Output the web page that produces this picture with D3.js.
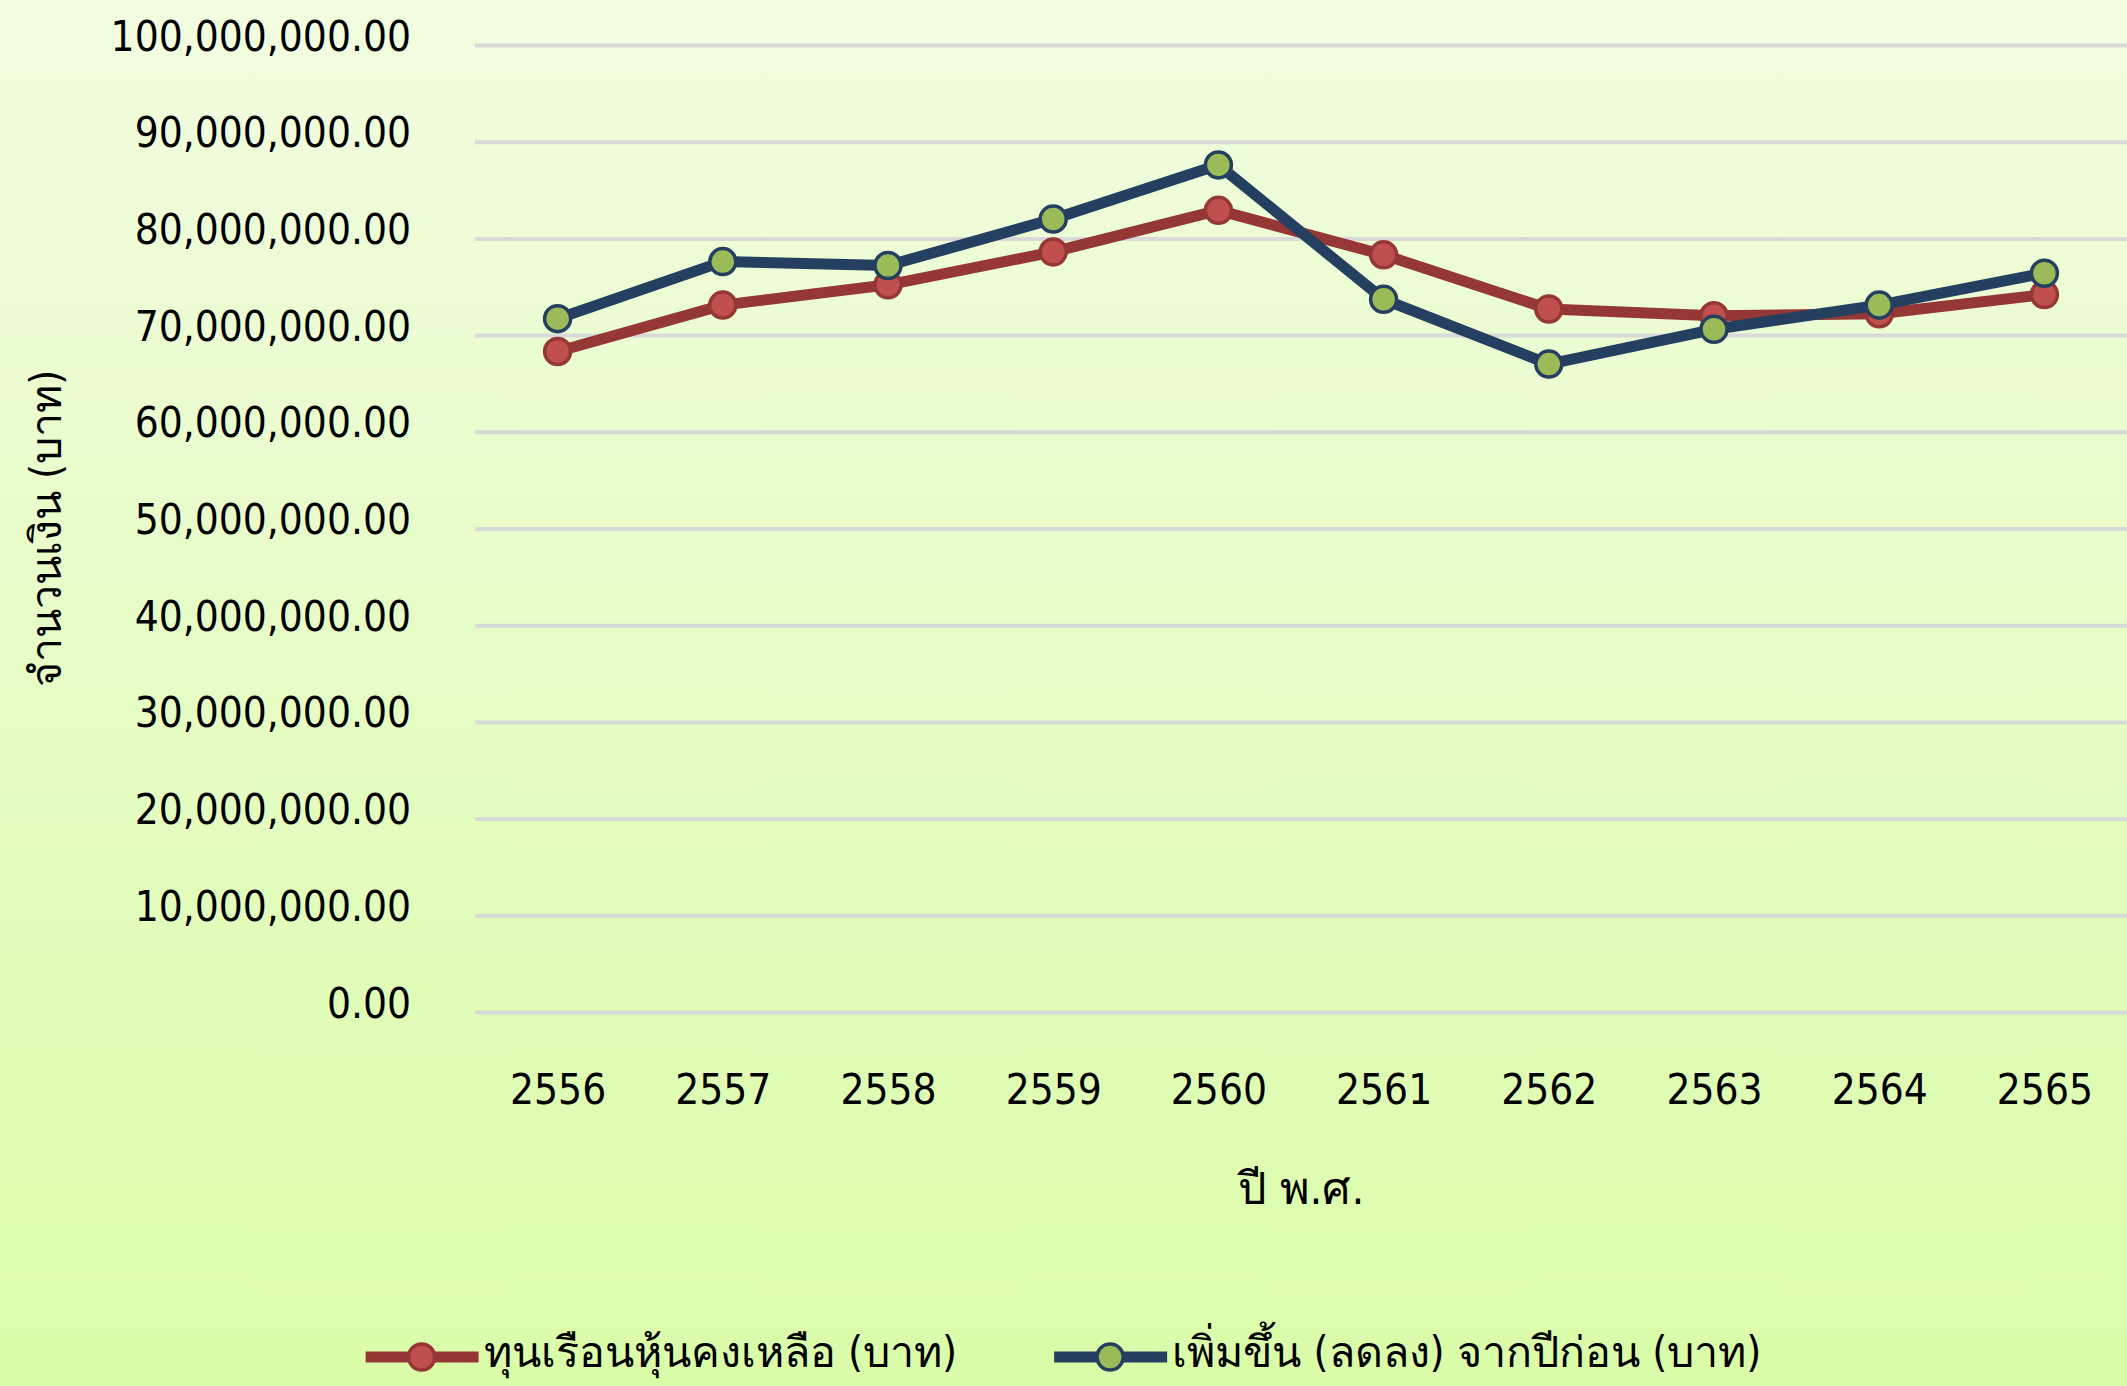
<!DOCTYPE html>
<html>
<head>
<meta charset="utf-8">
<script src="https://cdn.jsdelivr.net/npm/d3@7"></script>
<style>
  html, body { margin: 0; padding: 0; }
  body { width: 2127px; height: 1386px; overflow: hidden; }
  text { font-family: "DejaVu Sans Condensed", "DejaVu Sans", "Noto Sans", sans-serif; fill: #000; }
</style>
</head>
<body>
<div id="chart"></div>
<script>
// chart data
const years = ["2556", "2557", "2558", "2559", "2560", "2561", "2562", "2563", "2564", "2565"];
const remainingShares = [68300000, 73100000, 75200000, 78600000, 82900000, 78300000, 72700000, 72000000, 72200000, 74200000];
const changeFromPrev = [71700000, 77600000, 77200000, 82000000, 87600000, 73700000, 67000000, 70600000, 73100000, 76400000];
const yTicks = [0, 10000000, 20000000, 30000000, 40000000, 50000000, 60000000, 70000000, 80000000, 90000000, 100000000];
const seriesNames = ["ทุนเรือนหุ้นคงเหลือ (บาท)", "เพิ่มขึ้น (ลดลง) จากปีก่อน (บาท)"];
const xTitle = "ปี พ.ศ.";
const yTitle = "จำนวนเงิน (บาท)";

const svg_width = 2127,
    svg_height = 1386;

// plot area
const plot = {left: 475, right: 2127, top: 45, bottom: 1012};

const series = [
    {name: seriesNames[0], values: remainingShares, line: "#953735", fill: "#c0504d", stroke: "#953735"},
    {name: seriesNames[1], values: changeFromPrev, line: "#243f60", fill: "#9bbb59", stroke: "#243f60"}
];

const svg = d3.select("#chart")
    .append("svg")
    .attr("width", svg_width)
    .attr("height", svg_height);

// background gradient
const grad = svg.append("defs")
    .append("linearGradient")
    .attr("id", "bg")
    .attr("x1", 0).attr("y1", 0)
    .attr("x2", 0).attr("y2", 1);
grad.append("stop").attr("offset", "0%").attr("stop-color", "#f1fde0");
grad.append("stop").attr("offset", "100%").attr("stop-color", "#dafca8");

svg.append("rect")
    .attr("width", svg_width)
    .attr("height", svg_height)
    .attr("fill", "url(#bg)");

const x = d3.scalePoint()
    .domain(years)
    .range([plot.left, plot.right])
    .padding(0.5);

const y = d3.scaleLinear()
    .domain([0, 100000000])
    .range([plot.bottom, plot.top]);

// gridlines + y labels
const yAxis = svg.append("g")
    .call(d3.axisLeft(y)
        .tickValues(yTicks)
        .tickFormat(d3.format(",.2f"))
        .tickSize(0)
        .tickPadding(0));
yAxis.select(".domain").remove();
yAxis.selectAll(".tick line")
    .attr("x1", plot.left)
    .attr("x2", plot.right)
    .attr("stroke", "#d9d9d9")
    .attr("stroke-width", 4);
yAxis.selectAll(".tick text")
    .attr("x", 411)
    .attr("dy", null)
    .attr("y", 5)
    .attr("text-anchor", "end")
    .style("font-size", "42px");

// x labels
const xAxis = svg.append("g")
    .attr("transform", `translate(0,${plot.bottom})`)
    .call(d3.axisBottom(x).tickSize(0).tickPadding(0));
xAxis.select(".domain").remove();
xAxis.selectAll(".tick text")
    .attr("dy", null)
    .attr("y", 92)
    .style("font-size", "42px");

// axis titles
svg.append("text")
    .attr("x", (plot.left + plot.right) / 2)
    .attr("y", 1204)
    .attr("text-anchor", "middle")
    .style("font-size", "45px")
    .text(xTitle);

svg.append("text")
    .attr("transform", `translate(61,${(plot.top + plot.bottom) / 2}) rotate(-90)`)
    .attr("text-anchor", "middle")
    .style("font-size", "43px")
    .text(yTitle);

// lines and markers
const line = d3.line()
    .x((d, i) => x(years[i]))
    .y(d => y(d));

series.forEach(s => {
    const g = svg.append("g");
    g.append("path")
        .attr("d", line(s.values))
        .attr("fill", "none")
        .attr("stroke", s.line)
        .attr("stroke-width", 11)
        .attr("stroke-linejoin", "round");
    g.selectAll("circle")
        .data(s.values)
        .join("circle")
            .attr("cx", (d, i) => x(years[i]))
            .attr("cy", d => y(d))
            .attr("r", 13)
            .attr("fill", s.fill)
            .attr("stroke", s.stroke)
            .attr("stroke-width", 3.5);
});

// legend, centred on the page
const legend = svg.append("g");
let lx = 0;
series.forEach(s => {
    const item = legend.append("g").attr("transform", `translate(${lx},0)`);
    item.append("line")
        .attr("x1", 0).attr("x2", 113)
        .attr("stroke", s.line)
        .attr("stroke-width", 11);
    item.append("circle")
        .attr("cx", 56)
        .attr("r", 13)
        .attr("fill", s.fill)
        .attr("stroke", s.stroke)
        .attr("stroke-width", 3.5);
    const t = item.append("text")
        .attr("x", 118)
        .attr("y", 10)
        .style("font-size", "43px")
        .text(s.name);
    lx += 118 + t.node().getComputedTextLength() + 97;
});
const legendWidth = lx - 97;
legend.attr("transform", `translate(${(svg_width - legendWidth) / 2},1357)`);
</script>
</body>
</html>
